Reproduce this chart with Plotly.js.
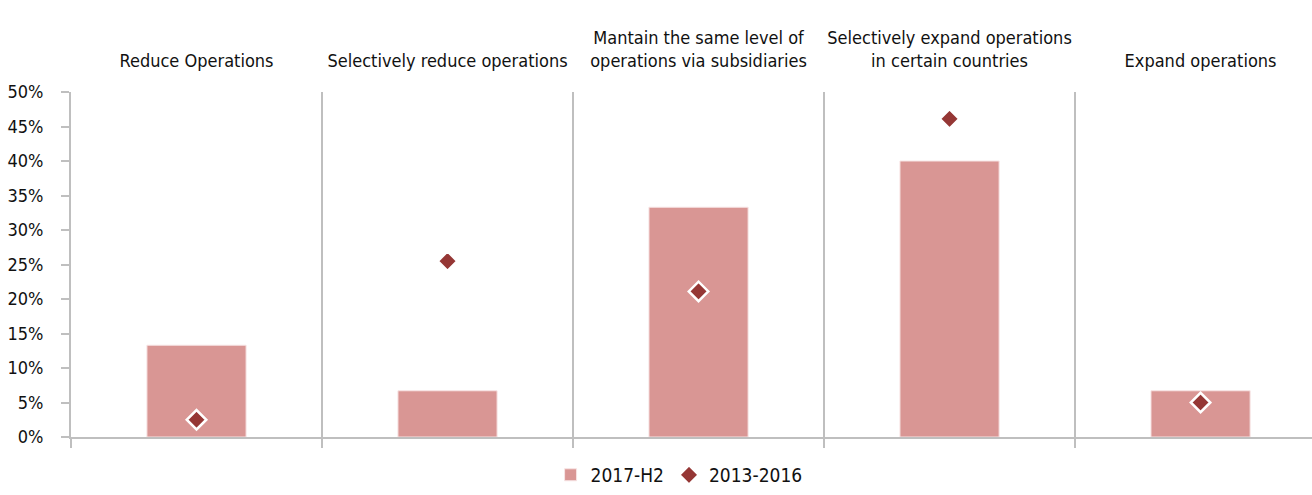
<!DOCTYPE html>
<html>
<head>
<meta charset="utf-8">
<script src="https://cdn.plot.ly/plotly-3.0.1.min.js"></script>
<style>
html,body{margin:0;padding:0;background:#fff;overflow:hidden;}
#chart{width:1312px;height:495px;}
#chart text{font-stretch:condensed !important;}
</style>
</head>
<body>
<div id="chart"></div>
<script>
const categories = [
  "Reduce Operations",
  "Selectively reduce operations",
  "Mantain the same level of<br>operations via subsidiaries",
  "Selectively expand operations<br>in certain countries",
  "Expand operations"
];
const series2017H2 = [0.133, 0.067, 0.333, 0.40, 0.067];
const series2013_2016 = [0.025, 0.255, 0.211, 0.461, 0.05];
const yTickVals = [0, 0.05, 0.10, 0.15, 0.20, 0.25, 0.30, 0.35, 0.40, 0.45, 0.50];
const yTickText = ["0%", "5%", "10%", "15%", "20%", "25%", "30%", "35%", "40%", "45%", "50%"];

const FAMILY = "DejaVu Sans Condensed, DejaVu Sans";
const GRID = "#bfbfbf";
const TXT = "#111111";
const mkFont = (s) => ({family: FAMILY, size: s, color: TXT});

const traces = [
  {
    type: "bar",
    name: "2017-H2",
    x: categories,
    y: series2017H2,
    width: 0.395,
    marker: {color: "#d99694", line: {color: "#f7e4e4", width: 1}},
    xaxis: "x",
    yaxis: "y"
  },
  {
    type: "scatter",
    mode: "markers",
    name: "2013-2016",
    x: categories,
    y: series2013_2016,
    marker: {symbol: "diamond", size: 15, color: "#953735", line: {color: "#ffffff", width: 2.5}},
    xaxis: "x",
    yaxis: "y"
  },
  {
    type: "scatter",
    mode: "markers",
    x: categories,
    y: series2013_2016,
    marker: {opacity: 0},
    showlegend: false,
    hoverinfo: "skip",
    xaxis: "x2",
    yaxis: "y"
  }
];

const layout = {
  width: 1312,
  height: 495,
  margin: {l: 71, r: 0, t: 92, b: 58},
  paper_bgcolor: "#ffffff",
  plot_bgcolor: "#ffffff",
  font: mkFont(18),
  showlegend: true,
  legend: {
    orientation: "h",
    x: 0.49, xanchor: "center",
    y: -0.165, yanchor: "bottom",
    font: mkFont(19),
    traceorder: "normal"
  },
  xaxis: {
    type: "category",
    categoryarray: categories,
    range: [-0.5, 4.444],
    automargin: false,
    tickson: "boundaries",
    ticks: "outside",
    ticklen: 9,
    tickcolor: GRID,
    tickwidth: 2,
    showticklabels: false,
    showgrid: true,
    gridcolor: GRID,
    gridwidth: 2,
    showline: true,
    linecolor: GRID,
    linewidth: 2,
    zeroline: false,
    fixedrange: true
  },
  xaxis2: {
    type: "category",
    categoryarray: categories,
    overlaying: "x",
    side: "top",
    anchor: "y",
    range: [-0.5, 4.444],
    automargin: false,
    tickangle: 0,
    ticks: "",
    showgrid: false,
    showline: false,
    zeroline: false,
    ticklabelstandoff: 20,
    tickfont: mkFont(18),
    fixedrange: true
  },
  yaxis: {
    range: [0, 0.5],
    automargin: false,
    tickvals: yTickVals,
    ticktext: yTickText,
    ticks: "outside",
    ticklen: 8,
    tickcolor: GRID,
    tickwidth: 2,
    showgrid: false,
    showline: true,
    linecolor: GRID,
    linewidth: 2,
    zeroline: false,
    ticklabelstandoff: 14,
    tickfont: mkFont(18),
    fixedrange: true
  },
  bargap: 0.6
};

Plotly.newPlot("chart", traces, layout, {displayModeBar: false, staticPlot: true});
</script>
</body>
</html>
